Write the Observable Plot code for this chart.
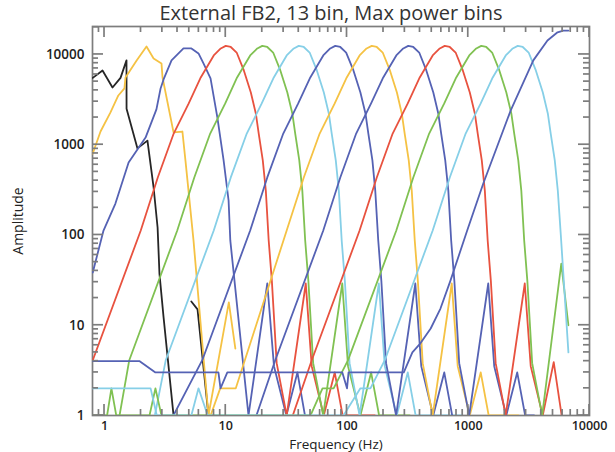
<!DOCTYPE html>
<html><head><meta charset="utf-8">
<script src="https://cdn.jsdelivr.net/npm/d3@7"></script>
<script src="https://cdn.jsdelivr.net/npm/@observablehq/plot@0.6"></script>
<style>
body{margin:0;background:#fff;font-family:"Open Sans",sans-serif;}
</style></head><body>
<div id="chart"></div>
<script>
// [frequency Hz, amplitude]; null amplitude = gap
const bin01 = [[0.8,5500],[0.963,6650],[1.164,4300],[1.355,5500],[1.518,8600],[1.52,2500],[1.87,910],[2.26,1110],[2.54,336],[2.74,121],[2.84,37],[3.07,12.2],[3.71,1],[4.5,null],[5.2,18.3],[5.85,15],[7.2,1]];
const bin02 = [[0.8,800],[0.927,1400],[1.12,2280],[1.3,3510],[1.46,4200],[1.49,5560],[1.84,8590],[2.22,12270],[2.54,9030],[2.95,7950],[3.01,5560],[3.71,1370],[4.39,1400],[4.65,670],[5.42,87],[7.2,1],[10.6,17.9],[12,5.5]];
const bin03 = [[0.8,38.4],[0.981,112],[1.23,223],[1.58,636],[2.18,1200],[2.68,2460],[2.9,4200],[3.07,5290],[3.57,8590],[4.48,11650],[5.21,11650],[5.96,10260],[6.55,7950],[7.49,5420],[8.53,2000],[9.6,670],[10.55,241],[10.9,87],[15.4,1],[22,29],[25,3.5],[31.6,1],[39,3],[45,1]];
const bin04 = [[0.8,4.1],[1.99,112],[2.75,434],[3.72,1330],[4.95,2870],[6.22,5560],[7.96,9750],[9.09,11650],[10,12450],[11,12100],[12.3,10500],[14.1,6650],[16.1,3790],[17.7,2220],[18.7,1330],[20.2,670],[21.4,310],[22.6,87],[24,31],[26.3,3.8],[31.8,1],[45.7,29],[51.2,3.5],[64.3,1],[79.2,3],[92.1,1],[170,1]];
const bin05 = [[1.33,1],[1.6,4.1],[3.98,112],[5.5,434],[7.44,1330],[9.9,2870],[12.4,5560],[15.9,9750],[18.2,11650],[20,12450],[22,12100],[24.6,10500],[28.2,6650],[32.2,3790],[35.4,2220],[37.4,1330],[40.4,670],[42.8,310],[45.2,87],[48,31],[52.6,3.8],[63.6,1],[91.4,29],[102,3.5],[129,1],[158,3],[184,1],[330,1]];
const bin06 = [[2.6,1],[3.2,4.1],[7.96,112],[11,434],[14.9,1330],[19.8,2870],[24.9,5560],[31.8,9750],[36.4,11650],[40,12450],[44,12100],[49.2,10500],[56.4,6650],[64.4,3790],[70.8,2220],[74.8,1330],[80.8,670],[85.6,310],[90.4,87],[96,31],[105,3.8],[127,1],[183,29],[205,3.5],[257,1],[317,3],[368,1],[900,1]];
const bin07 = [[3.7,1],[6.4,4.1],[15.9,112],[22,434],[29.8,1330],[39.6,2870],[49.8,5560],[63.7,9750],[72.7,11650],[80,12450],[88,12100],[98.4,10500],[113,6650],[129,3790],[142,2220],[150,1330],[162,670],[171,310],[181,87],[192,31],[210,3.8],[254,1],[366,29],[410,3.5],[514,1],[634,3],[737,1]];
const bin08 = [[7.5,1],[9,2],[12.1,2],[31.8,112],[44,434],[59.5,1330],[79.2,2870],[99.5,5560],[127,9750],[145,11650],[160,12450],[176,12100],[197,10500],[226,6650],[258,3790],[283,2220],[299,1330],[323,670],[342,310],[362,87],[384,31],[421,3.8],[509,1],[731,29],[819,3.5],[1029,1],[1267,3],[1474,1],[2600,1]];
const bin09 = [[17.9,1],[25.6,4.1],[63.7,112],[88,434],[119,1330],[158,2870],[199,5560],[255,9750],[291,11650],[320,12450],[352,12100],[394,10500],[451,6650],[515,3790],[566,2220],[598,1330],[646,670],[685,310],[723,87],[768,31],[842,3.8],[1018,1],[1462,29],[1638,3.5],[2058,1],[2534,3],[2947,1],[3500,1]];
const bin10 = [[35.7,1],[51.2,4.1],[127,112],[176,434],[238,1330],[317,2870],[398,5560],[509,9750],[582,11650],[640,12450],[704,12100],[787,10500],[902,6650],[1030,3790],[1133,2220],[1197,1330],[1293,670],[1370,310],[1446,87],[1536,31],[1683,3.8],[2035,1],[2925,29],[3277,3.5],[4115,1],[5069,3.9],[5894,1]];
const bin11 = [[0.8,1],[1.05,1],[1.14,2],[1.25,1],[2.35,1],[2.63,2],[2.95,1],[50,1],[62.8,2],[77.6,2],[102,4.1],[255,112],[352,434],[476,1330],[634,2870],[796,5560],[1019,9750],[1164,11650],[1280,12450],[1408,12100],[1574,10500],[1805,6650],[2061,3790],[2266,2220],[2394,1330],[2586,670],[2739,310],[2893,87],[3072,31],[3366,3.8],[4070,1],[5850,48],[6700,10]];
const bin12 = [[0.8,2],[2.4,2],[2.7,1],[5.2,1],[5.96,2],[7.1,1],[93.5,1],[129,2],[156,2],[205,4.1],[509,112],[704,434],[952,1330],[1267,2870],[1592,5560],[2038,9750],[2327,11650],[2560,12450],[2816,12100],[3149,10500],[3610,6650],[4122,3790],[4531,2220],[4787,1330],[5171,670],[5478,310],[5800,100],[6700,5]];
const bin13 = [[0.8,4],[1.95,4],[2.63,3],[8.7,3],[9.05,2],[10.3,3],[91.5,3],[100,2],[103,3],[294,3],[346,5],[403,6.3],[490,9.2],[590,15.3],[712,31],[980,112],[1330,372],[2240,2400],[3440,8600],[4500,14300],[5450,17600],[6090,18400],[6700,18400]];

const binNames = ["bin01","bin02","bin03","bin04","bin05","bin06","bin07","bin08","bin09","bin10","bin11","bin12","bin13"];
const binColors = ["#262626","#f5c244","#5562b4","#e8523f","#80c152","#86cfe7","#5562b4","#f5c244","#5562b4","#e8523f","#80c152","#86cfe7","#5562b4"];
const binSeries = [bin01,bin02,bin03,bin04,bin05,bin06,bin07,bin08,bin09,bin10,bin11,bin12,bin13];

const titleText = "External FB2, 13 bin, Max power bins";
const xAxisLabel = "Frequency (Hz)";
const yAxisLabel = "Amplitude";
const xTickValues = [1,10,100,1000,10000];
const xTickLabels = ["1","10","100","1000","10000"];
const yTickValues = [1,10,100,1000,10000];
const yTickLabels = ["1","10","100","1000","10000"];

const rows = binSeries.flatMap((pts,i)=>pts.map(([f,a])=>({bin:binNames[i], f, a: a==null?NaN:a})));

const xMinor = [0.9];
[1,10,100,1000].forEach(d=>{for(let k=2;k<=9;k++) xMinor.push(k*d);});
const yMinor = [];
[1,10,100,1000,10000].forEach(d=>{for(let k=2;k<=9;k++) if(k*d<=20400) yMinor.push(k*d);});

const W = 615, H = 452, mT = 26, mB = 37, mL = 92, mR = 26;
const xDomain = [0.796, 10000], yDomain = [1, 20400];
const axisGray = "#7d7d7d";

const plot = Plot.plot({
  width:W, height:H,
  marginTop:mT, marginBottom:mB, marginLeft:mL, marginRight:mR,
  style:{fontFamily:'"Open Sans", sans-serif', background:"white", overflow:"visible"},
  x:{type:"log", domain:xDomain},
  y:{type:"log", domain:yDomain},
  color:{domain:binNames, range:binColors},
  marks:[
    Plot.frame({stroke:axisGray, strokeWidth:1.7}),
    Plot.line(rows,{x:"f", y:"a", z:"bin", stroke:"bin", strokeWidth:1.8, clip:true}),
    Plot.axisX(xTickValues,{anchor:"bottom", tickSize:0, tickPadding:6, tickFormat:d=>xTickLabels[xTickValues.indexOf(d)], fontSize:12.5, fontWeight:600, fill:"#222", label:null}),
    Plot.axisY(yTickValues,{anchor:"left", tickSize:0, tickPadding:8, tickFormat:d=>yTickLabels[yTickValues.indexOf(d)], fontSize:13.5, fontWeight:600, fill:"#222", label:null}),
    Plot.text([yAxisLabel],{frameAnchor:"left", dx:-74, dy:0, rotate:-90, text:d=>d, textAnchor:"middle", lineAnchor:"middle", fontSize:14, fill:"#222"}),
    Plot.text([xAxisLabel],{frameAnchor:"bottom", dx:-5, dy:28.8, text:d=>d, textAnchor:"middle", lineAnchor:"middle", fontSize:13.5, letterSpacing:2.2, fill:"#222"}),
    Plot.text([titleText],{frameAnchor:"top", dx:-10, dy:-13, text:d=>d, textAnchor:"middle", lineAnchor:"middle", fontSize:20, letterSpacing:1.7, fill:"#333"})
  ]
});

// inward ticks on all four sides of the frame, positioned with the plot's own scales
const svgEl = plot.tagName.toLowerCase() === "svg" ? plot : plot.querySelector("svg");
const sx = plot.scale("x"), sy = plot.scale("y");
const fx0 = mL, fx1 = W - mR, fy0 = mT, fy1 = H - mB;
const tg = d3.select(svgEl).append("g").attr("stroke", axisGray).attr("stroke-width", 1.7).attr("fill", "none");
for (const [vals, len] of [[xTickValues,11],[xMinor,6]]) {
  for (const v of vals) {
    const px = sx.apply(v);
    tg.append("line").attr("x1", px).attr("x2", px).attr("y1", fy1).attr("y2", fy1 - len);
    tg.append("line").attr("x1", px).attr("x2", px).attr("y1", fy0).attr("y2", fy0 + len);
  }
}
for (const [vals, len] of [[yTickValues,11],[yMinor,6]]) {
  for (const v of vals) {
    const py = sy.apply(v);
    tg.append("line").attr("x1", fx0).attr("x2", fx0 + len).attr("y1", py).attr("y2", py);
    tg.append("line").attr("x1", fx1).attr("x2", fx1 - len).attr("y1", py).attr("y2", py);
  }
}
document.getElementById("chart").appendChild(plot);
</script>
</body></html>
